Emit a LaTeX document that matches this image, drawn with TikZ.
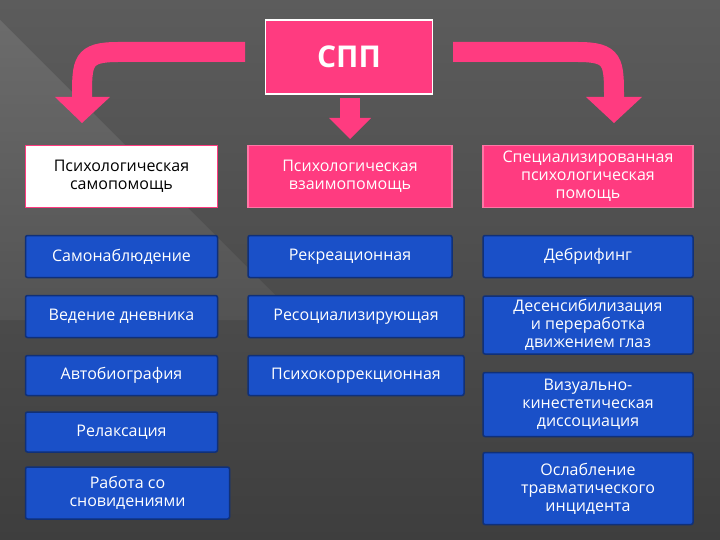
\documentclass[tikz,border=0pt]{standalone}
\usepackage{fontspec}
\setmainfont{Open Sans}
\begin{document}
\begin{tikzpicture}[x=1pt,y=-1pt,
  bx/.style={rectangle,align=center,inner sep=1pt,font=\fontsize{16}{18}\selectfont},
  pinkbox/.style={bx,fill=spink,draw=spink!70!white,line width=1.5pt,text=white},
  whitebox/.style={bx,fill=white,draw=spink,line width=1.5pt,text=black},
  bluebox/.style={bx,fill=sblue,draw=sblue!60!black,line width=1.5pt,text=white,rounded corners=2pt},
  arr/.style={draw=spink,line width=20pt},
  head/.style={fill=spink}]
\definecolor{spink}{HTML}{FF3B80}
\definecolor{sblue}{HTML}{1A50C8}
\definecolor{bgd}{HTML}{3E3E3E}
\definecolor{bgl}{HTML}{5C5C5C}
\useasboundingbox (0,0) rectangle (720,540);
\shade[top color=bgl,bottom color=bgd] (0,0) rectangle (720,540);
\shade[top color=bgl!80!white,bottom color=bgl,opacity=0.5] (0,20) -- (300,320) -- (0,320) -- cycle;
% arrows
\draw[arr] (245,52) -- (118,52) .. controls (82,52) and (82,62) .. (82,98);
\fill[head] (55,97) -- (110,97) -- (82,123) -- cycle;
\draw[arr] (453,52) -- (578,52) .. controls (614,52) and (614,62) .. (614,98);
\fill[head] (586,97) -- (642,97) -- (614,123) -- cycle;
\fill[head] (340,98) rectangle (360,119);
\fill[head] (329,118) -- (371,118) -- (350,139) -- cycle;
\node[pinkbox,draw=white,minimum width=167pt,minimum height=74pt,font=\fontsize{30}{30}\selectfont\bfseries] (spp) at (349,57) {СПП};
% row 1
\node[whitebox,minimum width=192pt,minimum height=62pt] (a0) at (121.5,176.5) {Психологическая\\самопомощь};
\node[pinkbox,minimum width=204pt,minimum height=62pt] (b0) at (350,176.5) {Психологическая\\взаимопомощь};
\node[pinkbox,minimum width=210pt,minimum height=62pt] (c0) at (588,176.5) {Специализированная\\психологическая\\помощь};
% col 1
\node[bluebox,minimum width=192pt,minimum height=42pt] (a1) at (121.5,256.5) {Самонаблюдение};
\node[bluebox,minimum width=192pt,minimum height=42pt] (a2) at (121.5,316.5) {Ведение дневника};
\node[bluebox,minimum width=192pt,minimum height=40pt] (a3) at (121.5,375.5) {Автобиография};
\node[bluebox,minimum width=192pt,minimum height=40pt] (a4) at (121.5,432) {\raisebox{-8pt}{Релаксация}};
\node[bluebox,minimum width=204pt,minimum height=52pt] (a5) at (127.5,493) {Работа со\\сновидениями};
% col 2
\node[bluebox,minimum width=204pt,minimum height=42pt] (b1) at (350,256.5) {Рекреационная};
\node[bluebox,minimum width=216pt,minimum height=42pt] (b2) at (356,316.5) {Ресоциализирующая};
\node[bluebox,minimum width=216pt,minimum height=40pt] (b3) at (356,375.5) {Психокоррекционная};
% col 3
\node[bluebox,minimum width=210pt,minimum height=42pt] (c1) at (588,256.5) {Дебрифинг};
\node[bluebox,minimum width=210pt,minimum height=58pt] (c2) at (588,325) {Десенсибилизация\\и переработка\\движением глаз};
\node[bluebox,minimum width=210pt,minimum height=64pt] (c3) at (588,404.5) {Визуально-\\кинестетическая\\диссоциация};
\node[bluebox,minimum width=210pt,minimum height=72pt] (c4) at (588,488.5) {Ослабление\\травматического\\инцидента};
\end{tikzpicture}
\end{document}
